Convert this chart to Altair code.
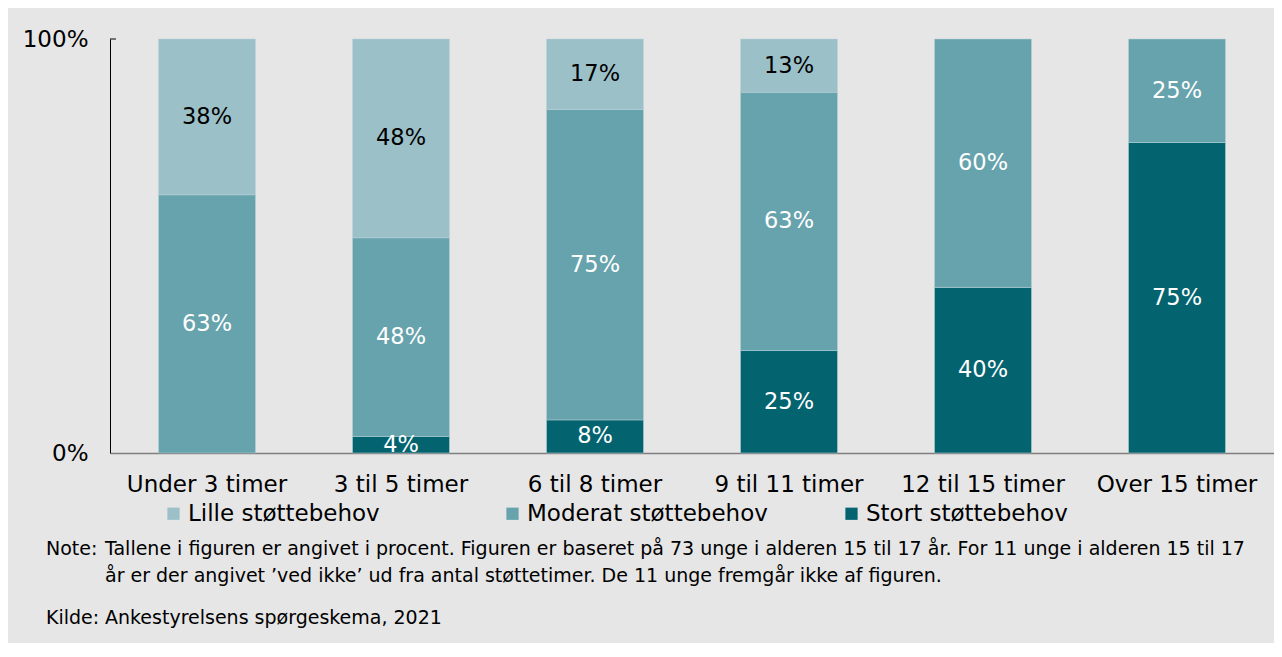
import altair as alt
import pandas as pd

categories = ["Under 3 timer", "3 til 5 timer", "6 til 8 timer",
              "9 til 11 timer", "12 til 15 timer", "Over 15 timer"]
series = ["Lille støttebehov", "Moderat støttebehov", "Stort støttebehov"]
lille = [38, 48, 17, 13, 0, 0]
moderat = [63, 48, 75, 63, 60, 25]
stort = [0, 4, 8, 25, 40, 75]
colors = ["#9bc0c8", "#67a3ac", "#036470"]
label_colors = ["#000000", "#ffffff", "#ffffff"]
y_ticks = [0, 1]

note_label = "Note:"
note_lines = [
    "Tallene i figuren er angivet i procent. Figuren er baseret på 73 unge i alderen 15 til 17 år. For 11 unge i alderen 15 til 17",
    "år er der angivet ’ved ikke’ ud fra antal støttetimer. De 11 unge fremgår ikke af figuren.",
]
source_label = "Kilde:"
source_text = "Ankestyrelsens spørgeskema, 2021"

rows = []
for i, c in enumerate(categories):
    for s, vals, order in [(series[2], stort, 0), (series[1], moderat, 1), (series[0], lille, 2)]:
        rows.append({"cat": c, "series": s, "value": vals[i], "ord": order})
df = pd.DataFrame(rows)

FONT = "DejaVu Sans"
W, H = 1164, 414

xenc = alt.X("cat:N", sort=categories, title=None,
             scale=alt.Scale(paddingInner=0.5, paddingOuter=0.25),
             axis=alt.Axis(labelAngle=0, labelFontSize=23, labelColor="#000000",
                           labelFont=FONT, ticks=False, domainColor="#7f7f7f",
                           domainWidth=1.5, labelPadding=20))

color_scale = alt.Scale(domain=series, range=colors)

bars = alt.Chart(df).transform_filter(alt.datum.value > 0).mark_bar(
    stroke="#b9d3d8", strokeWidth=0.5).encode(
    x=xenc,
    y=alt.Y("value:Q", stack="normalize", title=None,
            scale=alt.Scale(domain=[0, 1], nice=False),
            axis=alt.Axis(values=y_ticks, format=".0%", labelFontSize=23,
                          labelFont=FONT, labelColor="#000000", ticks=False,
                          grid=False, domainColor="#000000", labelPadding=22)),
    color=alt.Color("series:N", scale=color_scale, sort=series,
                    legend=alt.Legend(title=None, orient="none", direction="horizontal",
                                      columns=3, legendX=52, legendY=463,
                                      symbolType="square", symbolSize=150,
                                      symbolStrokeWidth=0, labelFontSize=23,
                                      labelFont=FONT, labelColor="#000000",
                                      labelOffset=3, gridAlign="all",
                                      columnPadding=72, labelLimit=400)),
    order=alt.Order("ord:Q", sort="ascending"),
)

labels = alt.Chart(df).transform_filter(
    alt.datum.value > 0
).transform_stack(
    stack="value", groupby=["cat"], as_=["y0", "y1"], sort=[alt.SortField("ord")]
).transform_joinaggregate(
    total="sum(value)", groupby=["cat"]
).transform_calculate(
    mid="(datum.y0 + datum.y1) / 2 / datum.total",
    txt="datum.value + '%'"
).mark_text(fontSize=22.5, font=FONT).encode(
    x=alt.X("cat:N", sort=categories),
    y=alt.Y("mid:Q"),
    text="txt:N",
    color=alt.Color("series:N", scale=alt.Scale(domain=series, range=label_colors),
                    legend=None),
)

top_tick = alt.Chart(pd.DataFrame({"v": [1]})).mark_rule(
    color="#000000", strokeWidth=1).encode(
    y="v:Q", x=alt.value(0), x2=alt.value(6))

notes_df = pd.DataFrame({
    "t": [note_label, note_lines[0], note_lines[1], source_label, source_text],
    "px": [-64, -5, -5, -64, -5],
    "py": [510, 510, 537, 579, 579],
})
notes = alt.Chart(notes_df).mark_text(
    fontSize=19, font=FONT, align="left", baseline="middle", color="#000000"
).encode(
    x=alt.X("px:Q", scale=None),
    y=alt.Y("py:Q", scale=None),
    text="t:N",
)

chart = alt.layer(bars, labels, top_tick, notes).resolve_scale(
    color="independent"
).properties(
    width=W, height=H,
    autosize=alt.AutoSizeParams(type="none"),
    padding={"left": 102, "top": 31, "right": 0, "bottom": 190},
    background="#e6e6e6",
).configure_view(stroke=None)

chart.save("out.html", embed_options={"renderer": "svg", "actions": False})
